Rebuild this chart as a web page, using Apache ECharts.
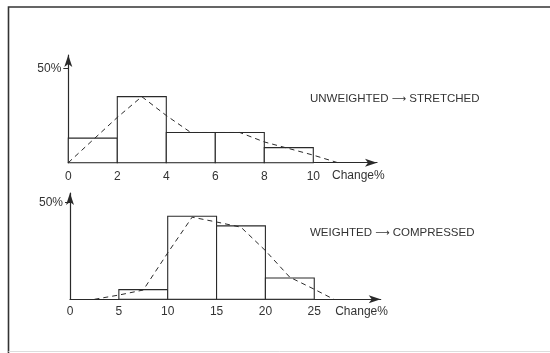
<!DOCTYPE html>
<html>
<head>
<meta charset="utf-8">
<script src="https://cdn.jsdelivr.net/npm/echarts@6/dist/echarts.min.js"></script>
<style>
html,body{margin:0;padding:0;background:#fff;}
#chart{width:550px;height:353px;}
</style>
</head>
<body>
<div id="chart"></div>
<script>
// ---- data ----
var topBinEdges = [0, 2, 4, 6, 8, 10];
var topBinValues = [13, 35, 16, 16, 8];
var topCurveX = [0, 1, 2, 3, 4, 5, 6, 7, 8, 9, 10, 11];
var topCurveY = [0, 12, 24, 35, 25, 16, 16, 16, 11, 7.5, 4, 0];
var topTickLabels = [0, 2, 4, 6, 8, 10];

var botBinEdges = [5, 10, 15, 20, 25];
var botBinValues = [5, 43, 38, 11];
var botCurveX = [2.5, 5, 7.5, 10, 12.5, 15, 17.5, 20, 22.5, 25, 27];
var botCurveY = [0, 2.2, 4.8, 24, 42.5, 40, 37.3, 25.2, 11.4, 5.2, 0];
var botTickLabels = [0, 5, 10, 15, 20, 25];

var yTickLabel = [50];
var axisName = 'Change%';
var topNote = ['UNWEIGHTED', 'STRETCHED'];
var botNote = ['WEIGHTED', 'COMPRESSED'];

// ---- helpers ----
function bins(edges, values) {
  var out = [];
  for (var i = 0; i < values.length; i++) out.push([edges[i], edges[i + 1], values[i]]);
  return out;
}
function pairs(xs, ys) {
  return xs.map(function (x, i) { return [x, ys[i]]; });
}
var INK = '#2a2a2a';
var FONT = '"Liberation Sans", Arial, sans-serif';

function renderBin(params, api) {
  var p0 = api.coord([api.value(0), api.value(2)]);
  var p1 = api.coord([api.value(1), 0]);
  return {
    type: 'rect',
    shape: { x: p0[0], y: p0[1], width: p1[0] - p0[0], height: p1[1] - p0[1] },
    style: { fill: '#fff', stroke: INK, lineWidth: 1.1 }
  };
}

function xAxisCfg(gridIndex, max, interval, labels, margin, nameGap, namePadTop) {
  return {
    type: 'value', gridIndex: gridIndex, min: 0, max: max, interval: interval,
    splitLine: { show: false },
    axisTick: { show: false },
    axisLine: { show: true, symbol: ['none', 'arrow'], symbolSize: [6, 12],
      lineStyle: { color: INK, width: 1.2 } },
    axisLabel: {
      margin: margin, color: '#333', fontSize: 12, fontFamily: FONT,
      showMinLabel: true, showMaxLabel: false, hideOverlap: false,
      formatter: function (v) { return labels.indexOf(v) >= 0 ? String(v) : ''; }
    },
    name: axisName, nameLocation: 'end', nameGap: nameGap,
    nameTextStyle: { color: '#333', fontSize: 12, fontFamily: FONT,
      align: 'left', verticalAlign: 'top', padding: [namePadTop, 0, 0, 0] }
  };
}
function yAxisCfg(gridIndex, max) {
  return {
    type: 'value', gridIndex: gridIndex, min: 0, max: max, interval: 50,
    splitLine: { show: false },
    axisLine: { show: true, symbol: ['none', 'arrow'], symbolSize: [6, 12],
      lineStyle: { color: INK, width: 1.2 } },
    axisTick: { show: true, length: 5, lineStyle: { color: INK, width: 1 },
      customValues: yTickLabel },
    axisLabel: {
      margin: 7, color: '#333', fontSize: 12, fontFamily: FONT,
      customValues: yTickLabel,
      formatter: function (v) { return yTickLabel.indexOf(v) >= 0 ? v + '%' : ''; }
    }
  };
}
function noteText(parts, top) {
  return {
    type: 'text', left: 310, top: top,
    style: {
      text: parts[0] + ' {a|\u27F6} ' + parts[1],
      fill: '#333', fontSize: 11.5, fontFamily: FONT,
      rich: { a: { fontFamily: '"DejaVu Sans", sans-serif', fontSize: 10, fill: '#333' } }
    }
  };
}

var chart = echarts.init(document.getElementById('chart'), null, { renderer: 'canvas' });
chart.setOption({
  animation: false,
  backgroundColor: '#fff',
  grid: [
    { left: 68.3, top: 55.1, width: 308.7, height: 107.6, outerBoundsMode: 'none', containLabel: false },
    { left: 70, top: 193, width: 310.7, height: 106.3, outerBoundsMode: 'none', containLabel: false }
  ],
  xAxis: [
    xAxisCfg(0, 12.6, 2, topTickLabels, 8, -45, 7),
    xAxisCfg(1, 31.8, 5, botTickLabels, 6.5, -45.5, 6)
  ],
  yAxis: [yAxisCfg(0, 57), yAxisCfg(1, 55)],
  graphic: [
    { type: 'polyline', silent: true, shape: { points: [[8.5, 353], [8.5, 7], [550, 7]] },
      style: { stroke: '#333', lineWidth: 1.6, fill: null } },
    { type: 'line', silent: true, shape: { x1: 8.5, y1: 351.5, x2: 550, y2: 351.5 },
      style: { stroke: '#ddd', lineWidth: 1 } },
    noteText(topNote, 93),
    noteText(botNote, 227)
  ],
  series: [
    { type: 'custom', xAxisIndex: 0, yAxisIndex: 0, renderItem: renderBin,
      data: bins(topBinEdges, topBinValues), encode: { x: [0, 1], y: 2 } },
    { type: 'line', xAxisIndex: 0, yAxisIndex: 0, data: pairs(topCurveX, topCurveY),
      showSymbol: false, smooth: false, z: 5,
      lineStyle: { color: INK, width: 1, type: [5, 4] } },
    { type: 'custom', xAxisIndex: 1, yAxisIndex: 1, renderItem: renderBin,
      data: bins(botBinEdges, botBinValues), encode: { x: [0, 1], y: 2 } },
    { type: 'line', xAxisIndex: 1, yAxisIndex: 1, data: pairs(botCurveX, botCurveY),
      showSymbol: false, smooth: false, z: 5,
      lineStyle: { color: INK, width: 1, type: [5, 4] } }
  ]
});
</script>
</body>
</html>
